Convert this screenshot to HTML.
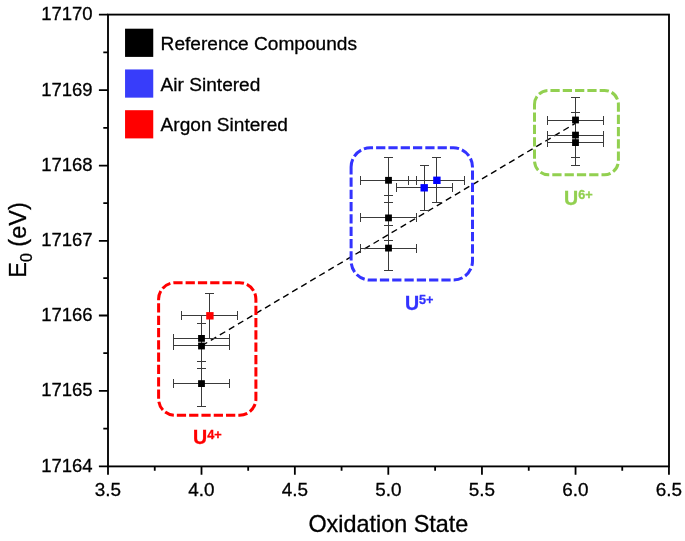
<!DOCTYPE html>
<html><head><meta charset="utf-8"><title>E0 vs Oxidation State</title>
<style>html,body{margin:0;padding:0;background:#fff}svg{display:block}text{font-family:"Liberation Sans",sans-serif;fill:#000;stroke:#000;stroke-width:0.3px}</style></head><body>
<svg width="685" height="541" viewBox="0 0 685 541">
<rect x="0" y="0" width="685" height="541" fill="#fff"/>
<line x1="201.3" y1="346.0" x2="575.6" y2="123.2" stroke="#000" stroke-width="1.4" stroke-dasharray="6.3 4.22" stroke-dashoffset="9.98"/>
<path d="M173.0 338.5H230.0M173.5 334.0V343.0M229.5 334.0V343.0M201.5 315.0V362.0M197.0 315.5H206.0M197.0 361.5H206.0M173.0 345.5H230.0M173.5 341.0V350.0M229.5 341.0V350.0M201.5 323.0V369.0M197.0 323.5H206.0M197.0 368.5H206.0M173.0 383.5H230.0M173.5 379.0V388.0M229.5 379.0V388.0M201.5 361.0V407.0M197.0 361.5H206.0M197.0 406.5H206.0M360.0 180.5H417.0M360.5 176.0V185.0M416.5 176.0V185.0M388.5 157.0V203.0M384.0 157.5H393.0M384.0 202.5H393.0M360.0 217.5H417.0M360.5 213.0V222.0M416.5 213.0V222.0M388.5 195.0V241.0M384.0 195.5H393.0M384.0 240.5H393.0M360.0 248.5H417.0M360.5 244.0V253.0M416.5 244.0V253.0M388.5 225.0V271.0M384.0 225.5H393.0M384.0 270.5H393.0M547.0 120.5H604.0M547.5 116.0V125.0M603.5 116.0V125.0M575.5 97.0V143.0M571.0 97.5H580.0M571.0 142.5H580.0M547.0 135.5H604.0M547.5 131.0V140.0M603.5 131.0V140.0M575.5 112.0V158.0M571.0 112.5H580.0M571.0 157.5H580.0M547.0 142.5H604.0M547.5 138.0V147.0M603.5 138.0V147.0M575.5 120.0V166.0M571.0 120.5H580.0M571.0 165.5H580.0M181.0 315.5H238.0M181.5 311.0V320.0M237.5 311.0V320.0M209.5 293.0V339.0M205.0 293.5H214.0M205.0 338.5H214.0M396.0 187.5H453.0M396.5 183.0V192.0M452.5 183.0V192.0M424.5 165.0V211.0M420.0 165.5H429.0M420.0 210.5H429.0M408.0 180.5H465.0M408.5 176.0V185.0M464.5 176.0V185.0M436.5 157.0V203.0M432.0 157.5H441.0M432.0 202.5H441.0" fill="none" stroke="#3a3a3a" stroke-width="1"/>
<rect x="198.1" y="335.0" width="6.8" height="6.8" fill="#000"/>
<rect x="198.1" y="342.6" width="6.8" height="6.8" fill="#000"/>
<rect x="198.1" y="380.2" width="6.8" height="6.8" fill="#000"/>
<rect x="385.1" y="176.9" width="6.8" height="6.8" fill="#000"/>
<rect x="385.1" y="214.5" width="6.8" height="6.8" fill="#000"/>
<rect x="385.1" y="244.7" width="6.8" height="6.8" fill="#000"/>
<rect x="572.1" y="116.6" width="6.8" height="6.8" fill="#000"/>
<rect x="572.1" y="131.7" width="6.8" height="6.8" fill="#000"/>
<rect x="572.1" y="139.2" width="6.8" height="6.8" fill="#000"/>
<rect x="206.2" y="312.1" width="7.4" height="7.4" fill="#ff0000"/>
<rect x="420.5" y="184.1" width="7.4" height="7.4" fill="#0000ff"/>
<rect x="433.2" y="176.6" width="7.4" height="7.4" fill="#0000ff"/>
<path d="M158.6 299.1A16.4 16.4 0 0 1 175.0 282.7H239.5A16.4 16.4 0 0 1 255.9 299.1V398.9A16.4 16.4 0 0 1 239.5 415.3H175.0A16.4 16.4 0 0 1 158.6 398.9Z" fill="none" stroke="#ff0000" stroke-width="3.0" stroke-dasharray="9.25 3.05" stroke-dashoffset="0.7"/>
<path d="M351.1 167.0A19.2 19.2 0 0 1 370.3 147.8H453.3A19.2 19.2 0 0 1 472.5 167.0V260.9A19.2 19.2 0 0 1 453.3 280.1H370.3A19.2 19.2 0 0 1 351.1 260.9Z" fill="none" stroke="#3333ff" stroke-width="3.0" stroke-dasharray="9.25 3.05" stroke-dashoffset="1.14"/>
<path d="M534.5 104.4A14.0 14.0 0 0 1 548.5 90.4H604.4A14.0 14.0 0 0 1 618.4 104.4V160.7A14.0 14.0 0 0 1 604.4 174.7H548.5A14.0 14.0 0 0 1 534.5 160.7Z" fill="none" stroke="#92d050" stroke-width="3.0" stroke-dasharray="9.25 3.05" stroke-dashoffset="0.8"/>
<rect x="108.0" y="14.6" width="561.0" height="451.8" fill="none" stroke="#000" stroke-width="1.85"/>
<path d="M108.00 466.45v8.2M154.75 466.45v4.3M201.50 466.45v8.2M248.18 466.45v4.3M294.85 466.45v8.2M341.58 466.45v4.3M388.30 466.45v8.2M435.12 466.45v4.3M481.95 466.45v8.2M528.75 466.45v4.3M575.55 466.45v8.2M622.25 466.45v4.3M668.95 466.45v8.2M108.0 466.45h-9.1M108.0 428.62h-4.7M108.0 390.80h-9.1M108.0 353.15h-4.7M108.0 315.50h-9.1M108.0 278.15h-4.7M108.0 240.80h-9.1M108.0 203.20h-4.7M108.0 165.60h-9.1M108.0 127.85h-4.7M108.0 90.10h-9.1M108.0 52.35h-4.7M108.0 14.60h-9.1" fill="none" stroke="#000" stroke-width="1.8"/>
<g font-size="18.9" text-anchor="middle">
<text x="108.0" y="495.75">3.5</text>
<text x="201.5" y="495.75">4.0</text>
<text x="294.9" y="495.75">4.5</text>
<text x="388.3" y="495.75">5.0</text>
<text x="481.9" y="495.75">5.5</text>
<text x="575.5" y="495.75">6.0</text>
<text x="669.0" y="495.75">6.5</text>
</g><g font-size="18.5" text-anchor="end">
<text x="92.6" y="471.9">17164</text>
<text x="92.6" y="396.3">17165</text>
<text x="92.6" y="321.0">17166</text>
<text x="92.6" y="246.3">17167</text>
<text x="92.6" y="171.1">17168</text>
<text x="92.6" y="95.6">17169</text>
<text x="92.6" y="20.1">17170</text>
</g>
<text x="388.4" y="532.4" font-size="23.4" text-anchor="middle">Oxidation State</text>
<text transform="translate(25.7,240) rotate(-90)" font-size="23.5" text-anchor="middle">E<tspan font-size="16" dy="6.5">0</tspan><tspan dy="-6.5"> (eV)</tspan></text>
<rect x="125.05" y="28.70" width="28.2" height="28.2" fill="#000"/>
<text x="160.6" y="49.9" font-size="19.1">Reference Compounds</text>
<rect x="125.05" y="69.45" width="28.2" height="28.2" fill="#383dfa"/>
<text x="160.6" y="90.7" font-size="19.1">Air Sintered</text>
<rect x="125.05" y="110.20" width="28.2" height="28.2" fill="#ff0000"/>
<text x="160.6" y="131.4" font-size="19.1">Argon Sintered</text>
<g font-weight="bold" font-size="19.6" text-anchor="start">
<text x="193" y="444.2" style="fill:#ff0000;stroke:#ff0000">U<tspan font-size="12.7" dy="-5.4">4+</tspan></text>
<text x="404.9" y="310.2" style="fill:#3333ff;stroke:#3333ff">U<tspan font-size="12.7" dy="-6.2">5+</tspan></text>
<text x="564" y="205.4" style="fill:#92d050;stroke:#92d050">U<tspan font-size="12.7" dy="-6.2">6+</tspan></text>
</g>
</svg></body></html>
